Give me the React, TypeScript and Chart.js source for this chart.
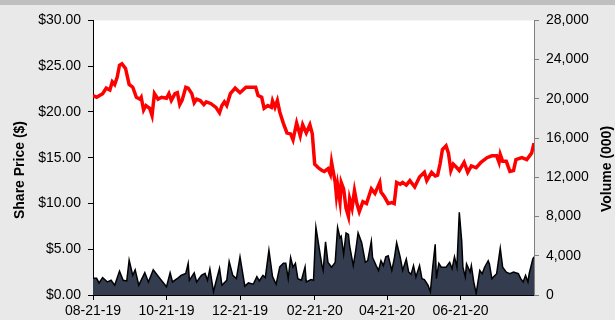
import React, { useEffect, useRef } from "react";
import { Chart, registerables } from "chart.js";

Chart.register(...registerables);

// Days since 08-21-19
const priceDays = [
  0, 3, 8, 11, 14, 16, 18, 20, 22, 24, 27, 30, 33, 36, 39, 40, 42, 44, 47, 49,
  51, 54, 57, 61, 63, 65, 68, 70, 72, 74, 77, 79, 82, 84, 86, 89, 92, 94, 98, 102,
  105, 107, 109, 111, 114, 118, 122, 127, 133, 135, 137, 140, 142, 145, 148, 149, 151, 153, 155, 158,
  161, 164, 166, 169, 172, 174, 177, 180, 182, 184, 187, 190, 192, 195, 197, 198, 201, 202, 203, 205,
  206, 208, 210, 212, 213, 215, 217, 219, 221, 224, 227, 231, 234, 238, 239, 242, 245, 248, 250, 252,
  255, 257, 260, 263, 267, 271, 275, 277, 281, 284, 286, 288, 290, 293, 295, 297, 299, 302, 304, 308,
  311, 314, 318, 322, 327, 331, 335, 337, 338, 340, 343, 346, 349, 351, 356, 360, 364, 366,
];
const priceValues = [
  21.8, 21.6, 22.0, 22.6, 22.4, 23.3, 23.0, 23.75, 25.1, 25.25, 24.75, 23.0, 22.7, 21.6, 21.4, 21.6, 20.2, 20.7, 20.4, 19.6,
  22.0, 21.4, 21.6, 21.5, 22.0, 21.25, 22.0, 22.1, 20.8, 21.3, 22.7, 22.6, 22.0, 21.0, 21.4, 21.25, 20.8, 21.1, 20.9, 20.5,
  19.9, 20.7, 21.1, 20.7, 22.0, 22.6, 22.1, 22.7, 22.7, 22.7, 21.8, 21.6, 20.4, 20.7, 20.5, 21.2, 20.5, 21.25, 20.0, 18.75,
  17.7, 17.6, 16.96, 18.8, 17.4, 18.6, 17.7, 18.6, 17.6, 14.3, 13.9, 13.6, 13.5, 13.8, 13.2, 14.5, 12.3, 10.9, 12.0, 10.2,
  12.3, 11.6, 9.5, 8.6, 10.5, 9.5, 11.4, 10.0, 9.1, 10.2, 10.0, 11.6, 11.1, 12.3, 11.25, 10.7, 10.0, 10.1, 10.0, 12.3,
  12.1, 12.3, 12.0, 12.5, 11.8, 12.9, 13.4, 12.5, 13.4, 13.0, 13.1, 14.3, 15.9, 16.3, 15.5, 13.6, 14.3, 13.9, 13.6, 14.5,
  13.4, 14.1, 13.9, 14.5, 15.0, 15.2, 15.2, 14.5, 15.35, 14.6, 14.6, 13.5, 13.6, 14.8, 15.0, 14.8, 15.5, 16.6,
];

const volumeDays = [
  0, 3, 5, 8, 12, 15, 18, 22, 25, 28, 30, 33, 35, 38, 43, 46, 50, 55, 60, 61,
  64, 66, 71, 73, 77, 79, 80, 84, 86, 90, 93, 95, 97, 100, 102, 105, 107, 111, 113, 116,
  119, 122, 126, 129, 133, 136, 138, 141, 143, 146, 149, 152, 155, 158, 160, 162, 164, 166, 168, 170,
  173, 176, 177, 181, 183, 185, 187, 190, 191, 193, 195, 198, 201, 203, 205, 206, 208, 210, 212, 213,
  216, 218, 220, 223, 226, 228, 231, 232, 235, 237, 239, 241, 243, 245, 248, 250, 252, 255, 257, 260,
  262, 264, 266, 268, 271, 273, 275, 278, 280, 282, 284, 285, 287, 289, 293, 296, 298, 300, 302, 304,
  306, 307, 309, 310, 313, 314, 316, 318, 321, 323, 325, 328, 329, 331, 335, 338, 340, 343, 346, 349,
  353, 355, 357, 359, 361, 362, 365, 366,
];
const volumeValues = [
  1700, 1700, 1230, 1770, 1330, 1500, 1000, 2430, 1500, 1430, 3570, 2000, 2570, 1000, 2270, 1330, 2570, 1770, 1000, 830,
  2270, 1330, 1770, 2000, 2200, 3230, 1500, 2270, 1330, 2000, 2200, 1500, 2670, 330, 1330, 2730, 1000, 1500, 3430, 2000,
  1670, 3900, 900, 1230, 1100, 1870, 1430, 2000, 1770, 4570, 1870, 1100, 2870, 3230, 3230, 1670, 3830, 2830, 3230, 1670,
  1500, 2870, 1330, 1570, 1500, 6900, 5330, 3000, 2500, 5430, 3330, 2830, 3330, 6900, 5830, 6000, 4170, 6330, 6170, 5000,
  3000, 4500, 6330, 5330, 3330, 3500, 5500, 3830, 3000, 2500, 3500, 3000, 3900, 4000, 2500, 3670, 5330, 3830, 2500, 3670,
  2330, 2100, 3000, 1830, 3000, 1670, 1570, 1000, 330, 2900, 5170, 1670, 3230, 2830, 2830, 3330, 2670, 3900, 2830, 8430,
  5500, 2830, 1830, 3170, 2330, 3000, 1330, 170, 2500, 2170, 2830, 3500, 3170, 1670, 2170, 4770, 2830, 2330, 2170, 2330,
  2170, 1670, 1330, 2000, 1330, 2170, 3670, 3900,
];

const xTickDays = [0, 61, 122, 184, 244, 305];
const xTickLabels = ["08-21-19", "10-21-19", "12-21-19", "02-21-20", "04-21-20", "06-21-20"];

const priceTicks = [0, 5, 10, 15, 20, 25, 30];
const volumeTicks = [0, 4000, 8000, 12000, 16000, 20000, 24000, 28000];

const FONT = "'Liberation Sans', Arial, sans-serif";

export default function App() {
  const ref = useRef<HTMLCanvasElement | null>(null);

  useEffect(() => {
    if (!ref.current) return;
    const plotBg = {
      id: "plotBg",
      beforeDraw(chart: any) {
        const { ctx, chartArea } = chart;
        ctx.save();
        ctx.fillStyle = "#ffffff";
        ctx.fillRect(chartArea.left, chartArea.top, chartArea.right - chartArea.left, chartArea.bottom - chartArea.top);
        ctx.restore();
      },
    };
    const titles = {
      id: "axisTitles",
      afterDraw(chart: any) {
        const { ctx } = chart;
        ctx.save();
        ctx.fillStyle = "#000000";
        ctx.font = `bold 14px ${FONT}`;
        ctx.textAlign = "center";
        ctx.textBaseline = "middle";
        ctx.translate(20, 165);
        ctx.rotate(-Math.PI / 2);
        ctx.fillText("Share Price ($)", 0, 0);
        ctx.restore();
        ctx.save();
        ctx.fillStyle = "#000000";
        ctx.font = `bold 14px ${FONT}`;
        ctx.textAlign = "center";
        ctx.textBaseline = "middle";
        ctx.translate(607, 164);
        ctx.rotate(-Math.PI / 2);
        ctx.fillText("Volume (000)", 0, 0);
        ctx.restore();
      },
    };

    const chart = new Chart(ref.current, {
      type: "line",
      data: {
        datasets: [
          {
            label: "Share Price",
            data: priceDays.map((d, i) => ({ x: d, y: priceValues[i] })),
            borderColor: "#ff0000",
            borderWidth: 3.5,
            pointRadius: 0,
            tension: 0,
            fill: false,
            yAxisID: "y",
          },
          {
            label: "Volume",
            data: volumeDays.map((d, i) => ({ x: d, y: volumeValues[i] })),
            borderColor: "#000000",
            borderWidth: 1.5,
            backgroundColor: "#333d4f",
            pointRadius: 0,
            tension: 0,
            fill: "origin",
            yAxisID: "y2",
          },
        ],
      },
      options: {
        responsive: false,
        animation: false,
        layout: { padding: { top: 10, left: 0, right: 0, bottom: 0 } },
        plugins: { legend: { display: false }, tooltip: { enabled: false } },
        scales: {
          x: {
            type: "linear",
            min: 0,
            max: 366,
            afterFit: (s: any) => { s.height = 25; },
            afterBuildTicks: (s: any) => { s.ticks = xTickDays.map((v) => ({ value: v })); },
            grid: { drawOnChartArea: false, color: "#000000", tickLength: 5 },
            border: { display: true, color: "#000000", width: 1 },
            ticks: {
              autoSkip: false,
              maxRotation: 0,
              padding: 3,
              color: "#000000",
              font: { family: FONT, size: 14 },
              callback: (v: any) => {
                const i = xTickDays.indexOf(Number(v));
                return i >= 0 ? xTickLabels[i] : "";
              },
            },
          },
          y: {
            position: "left",
            min: 0,
            max: 30,
            afterFit: (s: any) => { s.width = 93; },
            afterBuildTicks: (s: any) => { s.ticks = priceTicks.map((v) => ({ value: v })); },
            grid: { drawOnChartArea: false, color: "#000000", tickLength: 5 },
            border: { display: true, color: "#000000", width: 1 },
            ticks: {
              padding: 7,
              color: "#000000",
              font: { family: FONT, size: 14 },
              callback: (v: any) => "$" + Number(v).toFixed(2),
            },
          },
          y2: {
            position: "right",
            min: 0,
            max: 28000,
            afterFit: (s: any) => { s.width = 81; },
            afterBuildTicks: (s: any) => { s.ticks = volumeTicks.map((v) => ({ value: v })); },
            grid: { drawOnChartArea: false, color: "#808080", tickLength: 5 },
            border: { display: true, color: "#808080", width: 1 },
            ticks: {
              padding: 7,
              color: "#000000",
              font: { family: FONT, size: 14 },
              callback: (v: any) => Number(v).toLocaleString("en-US"),
            },
          },
        },
      },
      plugins: [plotBg, titles],
    } as any);
    return () => chart.destroy();
  }, []);

  return (
    <div style={{ position: "fixed", left: 0, top: 0, width: 615, height: 320, background: "#e9e9e9", overflow: "hidden" }}>
      <div style={{ height: 5, background: "#bfbfbf" }} />
      <canvas ref={ref} width={615} height={315} style={{ display: "block" }} />
    </div>
  );
}
